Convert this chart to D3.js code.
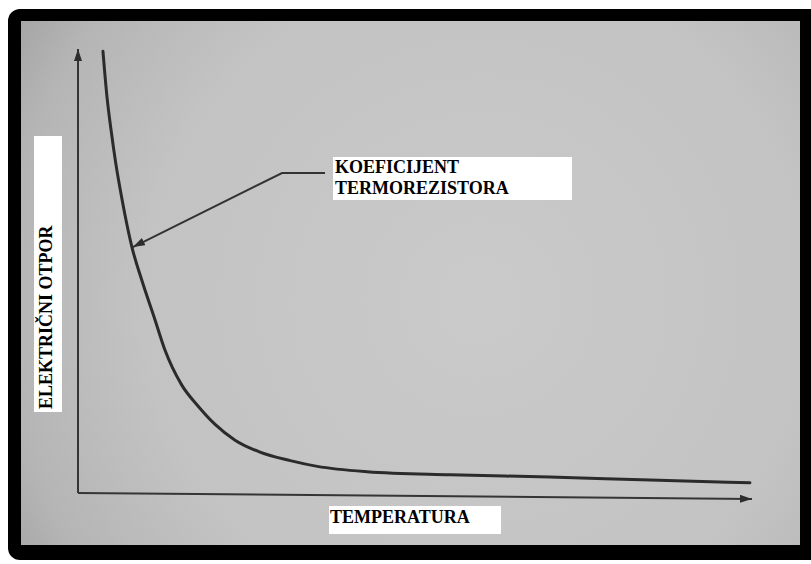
<!DOCTYPE html>
<html>
<head>
<meta charset="utf-8">
<script src="https://cdn.jsdelivr.net/npm/d3@7"></script>
<style>
  body { margin: 0; background: #fff; }
  svg { display: block; }
  .lbl { font-family: "Liberation Serif", "Times New Roman", serif; font-weight: bold; font-size: 18px; fill: #000; }
</style>
</head>
<body>
<div id="chart"></div>
<script>
// curve (arbitrary units, 0..100 on both axes)
const temperature = [3.7, 4.3, 4.9, 5.6, 6.5, 8.0, 9.6, 11.3, 12.9, 15.4, 17.8, 20.3, 23.3, 27.0, 31.5, 35.5, 42.9, 55.2, 70.0, 84.9, 99.7];
const resistance  = [99.5, 89.2, 81.8, 74.3, 66.4, 55.4, 47.3, 39.6, 32.2, 24.3, 19.6, 15.5, 11.9, 9.2, 7.3, 6.0, 4.8, 4.1, 3.6, 2.9, 2.3];

const xLabel = "TEMPERATURA";
const yLabel = "ELEKTRIČNI OTPOR";
const noteLines = ["KOEFICIJENT", "TERMOREZISTORA"];
const noteIndex = 5; // point on the curve the note arrow points at

const width = 811, height = 564;

const svg = d3.select("#chart").append("svg")
    .attr("width", width)
    .attr("height", height);

const defs = svg.append("defs");

const grad = defs.append("radialGradient")
    .attr("id", "paper")
    .attr("gradientUnits", "userSpaceOnUse")
    .attr("cx", 480).attr("cy", 300).attr("r", 560);
grad.append("stop").attr("offset", "0%").attr("stop-color", "#cacaca");
grad.append("stop").attr("offset", "60%").attr("stop-color", "#c3c3c3");
grad.append("stop").attr("offset", "85%").attr("stop-color", "#b5b5b5");
grad.append("stop").attr("offset", "100%").attr("stop-color", "#a0a0a0");

defs.append("marker")
    .attr("id", "arrow")
    .attr("viewBox", "0 0 12 8")
    .attr("refX", 12).attr("refY", 4)
    .attr("markerWidth", 12).attr("markerHeight", 8)
    .attr("markerUnits", "userSpaceOnUse")
    .attr("orient", "auto")
  .append("path")
    .attr("d", "M0,0L12,4L0,8Z")
    .attr("fill", "#2e2e2e");

// photo frame
svg.append("rect")
    .attr("x", 8).attr("y", 9)
    .attr("width", 830).attr("height", 551)
    .attr("rx", 12)
    .attr("fill", "#000");

svg.append("rect")
    .attr("x", 21).attr("y", 21)
    .attr("width", 779).attr("height", 524)
    .attr("fill", "url(#paper)");

const x = d3.scaleLinear().domain([0, 100]).range([78, 752]);
const y = d3.scaleLinear().domain([0, 100]).range([493, 49]);

// axes without ticks, arrow at the ends
const yAxis = svg.append("g")
    .attr("transform", `translate(${x(0)},0)`)
    .call(d3.axisLeft(y).tickValues([]).tickSizeOuter(0));
yAxis.select(".domain")
    .attr("stroke", "#353535")
    .attr("stroke-width", 2)
    .attr("d", `M0,${y(0)}V${y(100)}`)
    .attr("marker-end", "url(#arrow)");

const xAxis = svg.append("g")
    .attr("transform", `translate(0,${y(0)}) rotate(0.5,${x(0)},0)`)
    .call(d3.axisBottom(x).tickValues([]).tickSizeOuter(0));
xAxis.select(".domain")
    .attr("stroke", "#353535")
    .attr("stroke-width", 2)
    .attr("d", `M${x(0)},0H${x(100)}`)
    .attr("marker-end", "url(#arrow)");

const points = temperature.map((t, i) => [t, resistance[i]]);

const line = d3.line()
    .x(d => x(d[0]))
    .y(d => y(d[1]))
    .curve(d3.curveMonotoneX);

svg.append("path")
    .datum(points)
    .attr("d", line)
    .attr("fill", "none")
    .attr("stroke", "#2b2b2b")
    .attr("stroke-width", 3)
    .attr("stroke-linecap", "round");

// note box and leader
const noteBox = { x: 333, y: 157, w: 239, h: 43 };
const target = points[noteIndex];
const elbowY = noteBox.y + 16;

svg.append("path")
    .attr("d", `M${noteBox.x - 8},${elbowY}H${noteBox.x - 51}L${x(target[0]) + 1},${y(target[1])}`)
    .attr("fill", "none")
    .attr("stroke", "#333")
    .attr("stroke-width", 2)
    .attr("marker-end", "url(#arrow)");

svg.append("rect")
    .attr("x", noteBox.x).attr("y", noteBox.y)
    .attr("width", noteBox.w).attr("height", noteBox.h)
    .attr("fill", "#fff");

svg.append("text")
    .attr("class", "lbl")
    .attr("x", noteBox.x + 2)
    .attr("y", noteBox.y + 16)
    .selectAll("tspan")
    .data(noteLines)
    .join("tspan")
    .attr("x", noteBox.x + 2)
    .attr("dy", (d, i) => i === 0 ? 0 : 21)
    .text(d => d);

// x label
svg.append("rect")
    .attr("x", 329).attr("y", 506)
    .attr("width", 172).attr("height", 28)
    .attr("fill", "#fff");
svg.append("text")
    .attr("class", "lbl")
    .attr("x", 330).attr("y", 523)
    .text(xLabel);

// y label
svg.append("rect")
    .attr("x", 34).attr("y", 136)
    .attr("width", 28).attr("height", 276)
    .attr("fill", "#fff");
svg.append("text")
    .attr("class", "lbl")
    .attr("transform", "translate(52,409) rotate(-90)")
    .text(yLabel);
</script>
</body>
</html>
